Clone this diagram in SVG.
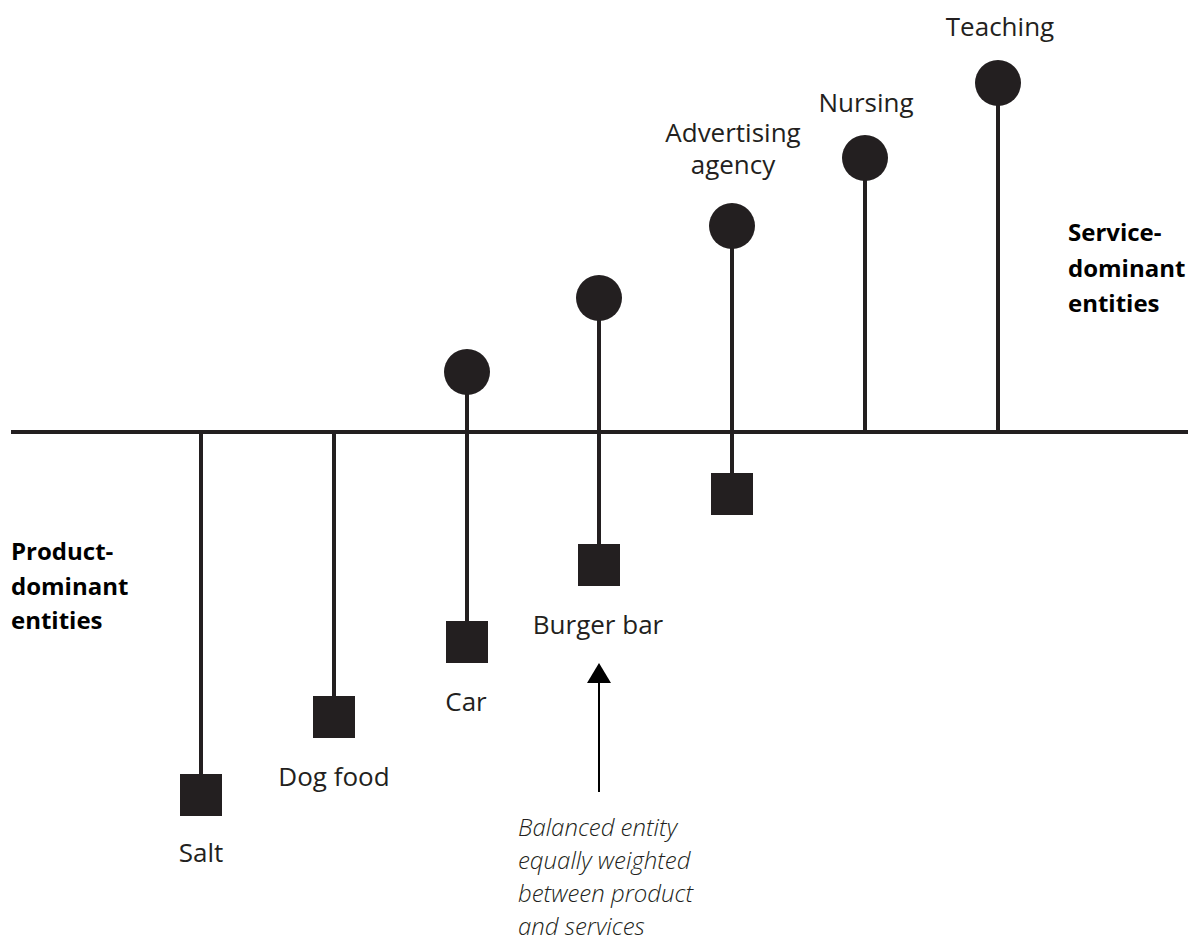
<svg xmlns="http://www.w3.org/2000/svg" width="1188" height="940" viewBox="0 0 1188 940">
  <defs>
    <style>
      .ln { stroke: #231f20; stroke-width: 4; fill: none; }
      .dot { fill: #231f20; }
      .sq { fill: #231f20; }
      .lbl { font-family: "Open Sans", "Liberation Sans", sans-serif; font-size: 26px; fill: #231f20; text-anchor: middle; }
      .bold { font-family: "Open Sans", "Liberation Sans", sans-serif; font-size: 24px; font-weight: bold; fill: #000; }
      .ital { font-family: "Open Sans", "Liberation Sans", sans-serif; font-size: 24px; font-style: italic; font-weight: 300; fill: #231f20; }
    </style>
  </defs>
  <rect width="1188" height="940" fill="#fff"/>

  <g id="connectors">
    <line class="ln" x1="11" y1="432" x2="1188" y2="432"/>
    <line class="ln" x1="201" y1="432" x2="201" y2="776"/>
    <line class="ln" x1="334" y1="432" x2="334" y2="698"/>
    <line class="ln" x1="467" y1="372" x2="467" y2="623"/>
    <line class="ln" x1="599" y1="298" x2="599" y2="546"/>
    <line class="ln" x1="732" y1="226" x2="732" y2="475"/>
    <line class="ln" x1="865" y1="158" x2="865" y2="432"/>
    <line class="ln" x1="998" y1="83" x2="998" y2="432"/>
    <line x1="599" y1="792" x2="599" y2="682" stroke="#000" stroke-width="2"/>
    <path d="M587,683 L599,663 L611,683 Z" fill="#000"/>
  </g>

  <g id="salt">
    <rect class="sq" x="180" y="774" width="42" height="42"/>
    <text class="lbl" x="201" y="862">Salt</text>
  </g>
  <g id="dog-food">
    <rect class="sq" x="313" y="696" width="42" height="42"/>
    <text class="lbl" x="334" y="786">Dog food</text>
  </g>
  <g id="car">
    <circle class="dot" cx="467" cy="372" r="23"/>
    <rect class="sq" x="446" y="621" width="42" height="42"/>
    <text class="lbl" x="466" y="711">Car</text>
  </g>
  <g id="burger-bar">
    <circle class="dot" cx="599" cy="298" r="23"/>
    <rect class="sq" x="578" y="544" width="42" height="42"/>
    <text class="lbl" x="598" y="634">Burger bar</text>
  </g>
  <g id="advertising-agency">
    <circle class="dot" cx="732" cy="226" r="23"/>
    <rect class="sq" x="711" y="473" width="42" height="42"/>
    <text class="lbl" x="733" y="142">Advertising</text>
    <text class="lbl" x="733" y="174">agency</text>
  </g>
  <g id="nursing">
    <circle class="dot" cx="865" cy="158" r="23"/>
    <text class="lbl" x="866" y="112">Nursing</text>
  </g>
  <g id="teaching">
    <circle class="dot" cx="998" cy="83" r="23"/>
    <text class="lbl" x="1000" y="36">Teaching</text>
  </g>

  <g id="product-dominant">
    <text class="bold" x="11" y="560">Product-</text>
    <text class="bold" x="11" y="595">dominant</text>
    <text class="bold" x="11" y="629">entities</text>
  </g>
  <g id="service-dominant">
    <text class="bold" x="1068" y="241">Service-</text>
    <text class="bold" x="1068" y="277">dominant</text>
    <text class="bold" x="1068" y="312">entities</text>
  </g>

  <g id="balanced-note">
    <text class="ital" x="518" y="836">Balanced entity</text>
    <text class="ital" x="518" y="869">equally weighted</text>
    <text class="ital" x="518" y="902">between product</text>
    <text class="ital" x="518" y="935">and services</text>
  </g>
</svg>
